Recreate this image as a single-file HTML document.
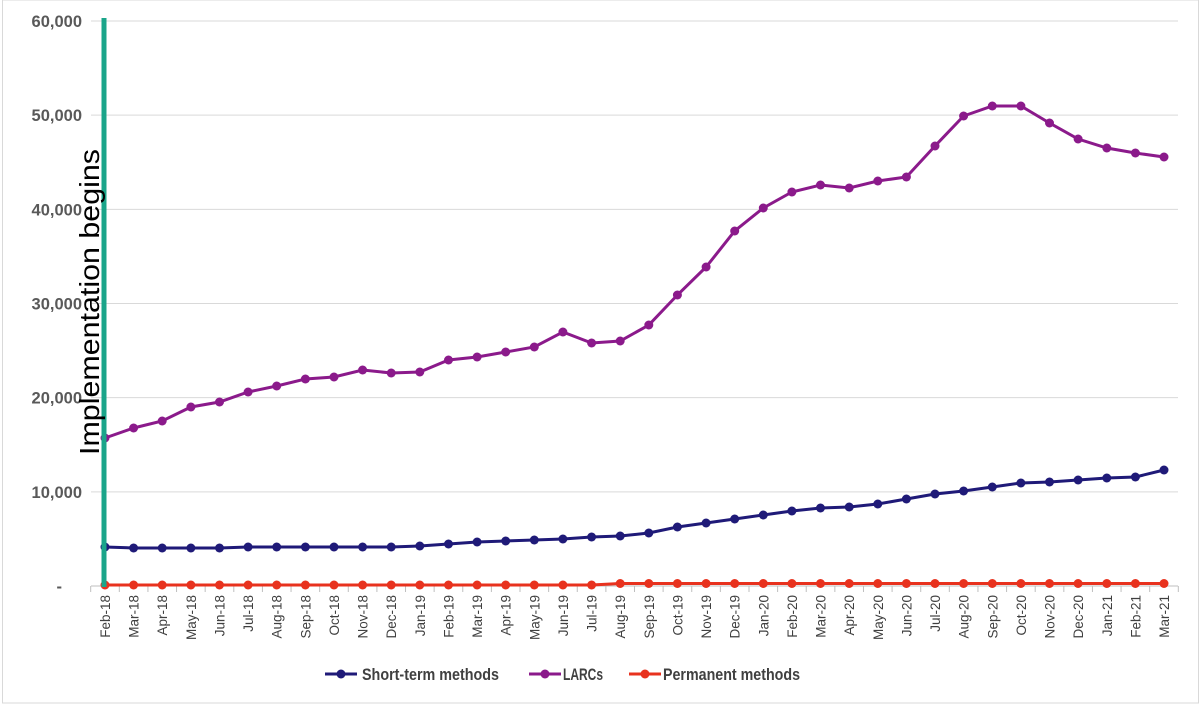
<!DOCTYPE html>
<html><head><meta charset="utf-8"><style>
body{margin:0;background:#fff}
svg{display:block;font-family:"Liberation Sans",Arial,sans-serif}
</style></head><body>
<svg id="c" width="1200" height="704" xmlns="http://www.w3.org/2000/svg"></svg>
<script>
const s=document.getElementById('c');let h='';
h+='<rect x="2.5" y="0" width="1196" height="703" fill="none" stroke="#d9d9d9"/>';
const y0=586,pp=94.17;
const ylab=['-','10,000','20,000','30,000','40,000','50,000','60,000'];
for(let i=0;i<=6;i++){const y=y0-i*pp;
 if(i>0)h+=`<line x1="91" x2="1178" y1="${y}" y2="${y}" stroke="#d9d9d9" stroke-width="1"/>`;
 h+=`<text x="${i==0?62:82}" y="${y+6}" text-anchor="end" font-size="16.5" font-weight="bold" fill="#595959">${ylab[i]}</text>`;}
h+=`<line x1="91" x2="1178" y1="586" y2="586" stroke="#bfbfbf"/>`;
const x0=105,dx=(1164-105)/37;
const mon=['Jan','Feb','Mar','Apr','May','Jun','Jul','Aug','Sep','Oct','Nov','Dec'];
for(let i=0;i<38;i++){const m=(1+i)%12,yr=18+Math.floor((1+i)/12);const x=x0+i*dx;
 h+=`<line x1="${x-dx/2}" x2="${x-dx/2}" y1="586" y2="592" stroke="#bfbfbf"/>`;
 h+=`<text transform="translate(${x+5},595) rotate(-90)" text-anchor="end" font-size="13.5" fill="#404040">${mon[m]}-${yr}</text>`;}
h+=`<line x1="${x0+37.5*dx}" x2="${x0+37.5*dx}" y1="586" y2="592" stroke="#bfbfbf"/>`;
const L=[438,428,421,407,402,392,386,379,377,370,373,372,360,357,352,347,332,343,341,325,295,267,231,208,192,185,188,181,177,146,116,106,106,123,139,148,153,157];
const S=[547,548,548,548,548,547,547,547,547,547,547,546,544,542,541,540,539,537,536,533,527,523,519,515,511,508,507,504,499,494,491,487,483,482,480,478,477,470];
const P=[];for(let i=0;i<38;i++)P.push(i<18?585:583.5);
function ser(d,c){let p=d.map((y,i)=>(x0+i*dx).toFixed(1)+','+y).join(' ');
 let r=`<polyline points="${p}" fill="none" stroke="${c}" stroke-width="3"/>`;
 d.forEach((y,i)=>r+=`<circle cx="${(x0+i*dx).toFixed(1)}" cy="${y}" r="4.5" fill="${c}"/>`);return r;}
h+=ser(S,'#1f1a78')+ser(L,'#8b1a8b')+ser(P,'#e8321e');
h+=`<line x1="104" x2="104" y1="18" y2="587" stroke="#1aa58a" stroke-width="5"/>`;
h+=`<text transform="translate(99,302) rotate(-90)" text-anchor="middle" font-size="28" fill="#000" textLength="306" lengthAdjust="spacingAndGlyphs">Implementation begins</text>`;
const lg=[[325,362,'Short-term methods','#1f1a78',137],[529,563,'LARCs','#8b1a8b',40],[629,663,'Permanent methods','#e8321e',137]];
lg.forEach(([a,t,n,c,w])=>{h+=`<line x1="${a}" x2="${a+32}" y1="674" y2="674" stroke="${c}" stroke-width="3"/><circle cx="${a+16}" cy="674" r="4.5" fill="${c}"/><text x="${t}" y="680" font-size="17" font-weight="bold" fill="#404040" textLength="${w}" lengthAdjust="spacingAndGlyphs">${n}</text>`;});
s.innerHTML=h;
</script>
</body></html>
